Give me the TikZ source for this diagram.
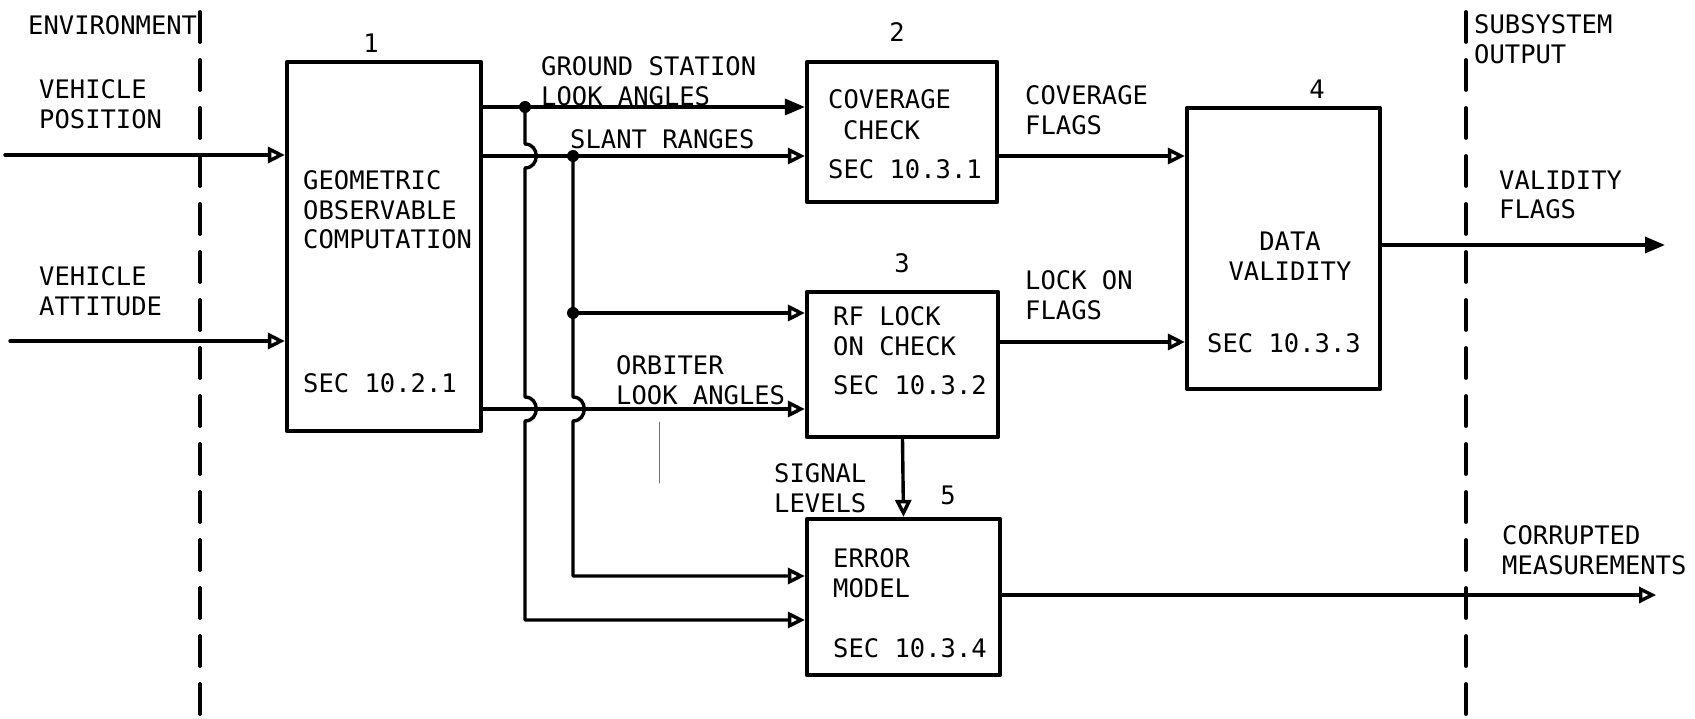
\documentclass[tikz,border=0pt]{standalone}
\usepackage{fontspec}
\newfontfamily\diagfont{DejaVu Sans Mono}
\usetikzlibrary{arrows.meta,calc}

\begin{document}
\begin{tikzpicture}[x=1pt,y=-1pt,line cap=round,line join=round,
  blk/.style={draw,line width=4.2pt,inner sep=0pt},
  lbl/.style={inner sep=0pt,anchor=west,align=left,font=\diagfont\fontsize{25.5}{29.5}\selectfont},
  flow/.style={line width=3.4pt,-{Triangle[open,length=17pt,width=16pt]}},
  bigflow/.style={line width=3.4pt,-{Triangle[length=20pt,width=16pt]}},
  bound/.style={line width=3.8pt,dash pattern=on 30pt off 18pt}]
\useasboundingbox (0,0) rectangle (1695,719);
% boundaries
\coordinate (envT) at (200,12);
\coordinate (envB) at (200,719);
\coordinate (subT) at (1466,12);
\coordinate (subB) at (1466,719);
\draw[bound] (envT) -- (envB);
\draw[bound] (subT) -- (subB);
\node[lbl] (env) at (28,25) {ENVIRONMENT};
\node[lbl] (sub) at (1474,39) {SUBSYSTEM\\OUTPUT};
% blocks
\node[blk,minimum width=194,minimum height=369] (geo) at (384,246.5) {};
\node[blk,minimum width=190,minimum height=140] (cov) at (902,132) {};
\node[blk,minimum width=191,minimum height=145] (rf) at (902.5,364.5) {};
\node[blk,minimum width=193,minimum height=281] (val) at (1283.5,248.5) {};
\node[blk,minimum width=193,minimum height=156] (err) at (903.5,597) {};
\node[lbl,anchor=center] (n1) at (371,43) {1};
\node[lbl,anchor=center] (n2) at (897,32) {2};
\node[lbl,anchor=center] (n3) at (902,263) {3};
\node[lbl,anchor=center] (n4) at (1317,89) {4};
\node[lbl,anchor=center] (n5) at (948,495) {5};
\node[lbl] (geot) at (303,210) {GEOMETRIC\\OBSERVABLE\\COMPUTATION};
\node[lbl] (geos) at (303,383) {SEC 10.2.1};
\node[lbl] (covt) at (828,99) {COVERAGE};
\node[lbl] (covt2) at (843,130) {CHECK};
\node[lbl] (covs) at (828,169) {SEC 10.3.1};
\node[lbl] (rft) at (833,331) {RF LOCK\\ON CHECK};
\node[lbl] (rfs) at (833,385) {SEC 10.3.2};
\node[lbl,anchor=center,align=center] (valt) at (1290,256) {DATA\\VALIDITY};
\node[lbl] (vals) at (1207,343) {SEC 10.3.3};
\node[lbl] (errt) at (833,573) {ERROR\\MODEL};
\node[lbl] (errs) at (833,648) {SEC 10.3.4};
% junctions and levels
\coordinate (vpS) at (5,155);
\coordinate (vaS) at (10,341);
\coordinate (gsj) at (525,107);
\coordinate (srj) at (573,156);
\coordinate (rfj) at (573,313);
\coordinate (ol) at (700,409);
\coordinate (em1) at (700,576);
\coordinate (em2) at (700,620);
\coordinate (cf) at (1050,156);
\coordinate (lf) at (1050,342);
\coordinate (vf) at (1665,245);
\coordinate (cm) at (1656,595);
% flows
\draw[flow] (vpS) -- (geo.west |- vpS);
\draw[flow] (vaS) -- (geo.west |- vaS);
\draw[bigflow] (geo.east |- gsj) -- (cov.west |- gsj);
\draw[flow] (geo.east |- srj) -- (cov.west |- srj);
\draw[flow] (geo.east |- ol) -- (rf.west |- ol);
\draw[flow] (gsj) -- ($(gsj |- srj)+(0,-12)$) .. controls +(15,0) and +(15,0) .. ($(gsj |- srj)+(0,12)$)
  -- ($(gsj |- ol)+(0,-12)$) .. controls +(15,0) and +(15,0) .. ($(gsj |- ol)+(0,12)$)
  -- (gsj |- em2) -- (err.west |- em2);
\draw[flow] (srj) -- ($(srj |- ol)+(0,-12)$) .. controls +(15,0) and +(15,0) .. ($(srj |- ol)+(0,12)$)
  -- (srj |- em1) -- (err.west |- em1);
\draw[flow] (rfj) -- (rf.west |- rfj);
\fill (gsj) circle (6pt);
\fill (srj) circle (6pt);
\fill (rfj) circle (6pt);
\draw[flow] (cov.east |- cf) -- (val.west |- cf);
\draw[flow] (rf.east |- lf) -- (val.west |- lf);
\draw[flow] (rf.south) -- (err.north);
\draw[bigflow] (val.east |- vf) -- (vf);
\draw[flow] (err.east |- cm) -- (cm);
\draw[line width=0.6pt,black!55] (659,422) -- (659,483);
% flow labels
\node[lbl] (vp) at (39,104) {VEHICLE\\POSITION};
\node[lbl] (va) at (39,291) {VEHICLE\\ATTITUDE};
\node[lbl] (gs) at (541,81) {GROUND STATION\\LOOK ANGLES};
\node[lbl] (sr) at (570,139) {SLANT RANGES};
\node[lbl] (olt) at (616,380) {ORBITER\\LOOK ANGLES};
\node[lbl] (sig) at (774,488) {SIGNAL\\LEVELS};
\node[lbl] (cft) at (1025,110) {COVERAGE\\FLAGS};
\node[lbl] (lft) at (1025,295) {LOCK ON\\FLAGS};
\node[lbl] (vft) at (1499,195) {VALIDITY\\FLAGS};
\node[lbl] (cmt) at (1502,550) {CORRUPTED\\MEASUREMENTS};
\end{tikzpicture}
\end{document}
